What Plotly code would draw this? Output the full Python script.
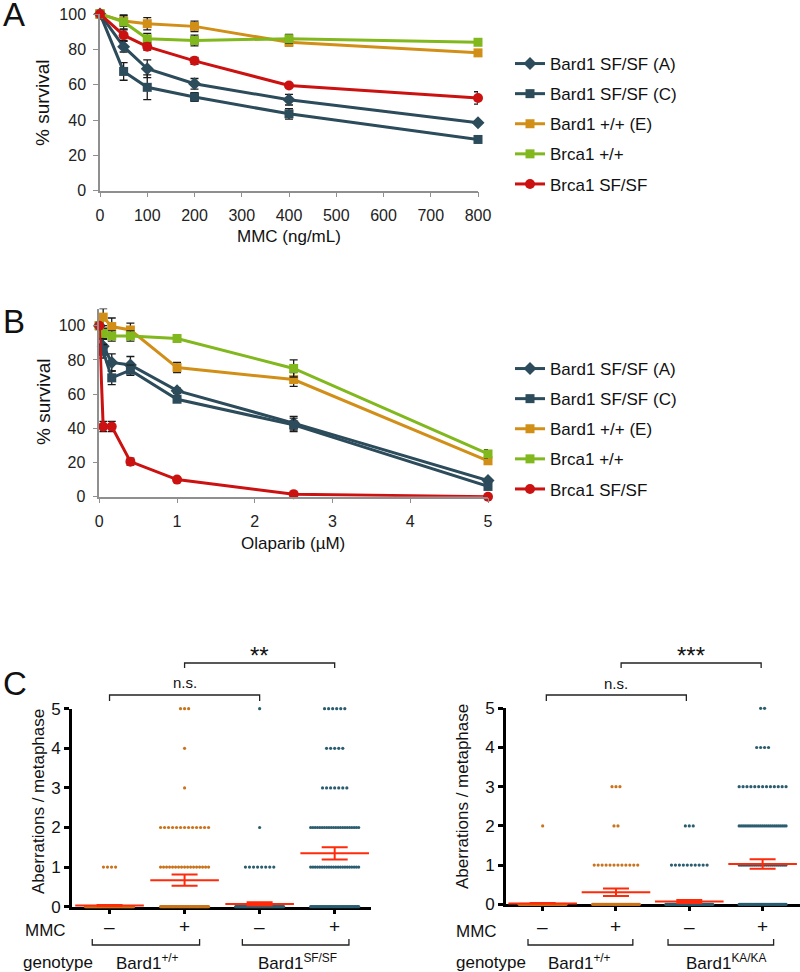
import plotly.graph_objects as go

FONT = "Arial, Liberation Sans, sans-serif"
W, H = 800, 972

# ---------------- Panel A data (MMC) ----------------
mmc_dose = [0, 50, 100, 200, 400, 800]
a_bard1_sfA = [100, 81.5, 69, 60.5, 51.5, 38.5]
a_bard1_sfA_err = [0, 3, 5, 3, 3, 1]
a_bard1_sfC = [100, 67.5, 58.5, 53, 43.5, 29]
a_bard1_sfC_err = [0, 5, 7, 2.5, 3, 1]
a_bard1_wtE = [100, 96, 94.5, 93, 84, 78]
a_bard1_wtE_err = [0, 3, 3.5, 3, 2, 1]
a_brca1_wt = [100, 95.5, 86, 85, 86, 84]
a_brca1_wt_err = [0, 4, 3, 3, 2.5, 1]
a_brca1_sf = [100, 88, 81.5, 73.5, 59.5, 52.5]
a_brca1_sf_err = [0, 3, 2, 2, 1, 3.5]

# ---------------- Panel B data (Olaparib) ----------------
ola_dose = [0, 0.05, 0.16, 0.4, 1, 2.5, 5]
b_bard1_sfA = [100, 88, 78.5, 77, 62, 43, 9.5]
b_bard1_sfA_err = [0, 4, 5, 5, 1.5, 4, 1]
b_bard1_sfC = [100, 85, 69.5, 74, 57, 42, 6]
b_bard1_sfC_err = [0, 4, 4, 3, 1.5, 4, 1]
b_bard1_wtE = [100, 105, 99.5, 97.5, 75.5, 68.5, 21]
b_bard1_wtE_err = [0, 5, 5, 4, 3, 4, 2]
b_brca1_wt = [100, 95.5, 94, 94, 92.5, 75, 25]
b_brca1_wt_err = [0, 3, 3, 3, 1.5, 5, 2.5]
b_brca1_sf = [100, 41, 41, 20.5, 10, 1.5, 0]
b_brca1_sf_err = [0, 3, 3, 2, 1, 0.5, 0]

series_names = ["Bard1 SF/SF (A)", "Bard1 SF/SF (C)", "Bard1 +/+ (E)", "Brca1 +/+", "Brca1 SF/SF"]
series_colors = ["#2c4b5b", "#2c4b5b", "#d28f17", "#80b81d", "#cc1111"]
series_symbols = ["diamond", "square", "square", "square", "circle"]
series_sizes = [10, 9, 9, 9, 10]

# ---------------- Panel C data (aberrations / metaphase) ----------------
aberr_values = [0, 1, 2, 3, 4, 5]
mmc_labels = ["–", "+", "–", "+"]
# counts of metaphases at each aberration value, per group
c_left_wt_minus = [60, 4, 0, 0, 0, 0]
c_left_wt_plus = [55, 17, 13, 1, 1, 3]
c_left_sf_minus = [60, 8, 1, 0, 0, 1]
c_left_sf_plus = [45, 22, 22, 7, 5, 6]
c_left_mean = [0.03, 0.67, 0.07, 1.35]
c_left_sem_lo = [0.015, 0.53, 0.03, 1.19]
c_left_sem_hi = [0.045, 0.81, 0.11, 1.50]

c_right_wt_minus = [60, 0, 1, 0, 0, 0]
c_right_wt_plus = [55, 12, 2, 3, 0, 0]
c_right_ka_minus = [60, 10, 3, 0, 0, 0]
c_right_ka_plus = [45, 25, 25, 13, 4, 2]
c_right_mean = [0.02, 0.31, 0.07, 1.03]
c_right_sem_lo = [0.01, 0.21, 0.03, 0.91]
c_right_sem_hi = [0.03, 0.40, 0.11, 1.15]

ORANGE = "#c9741c"
TEAL = "#2b5d70"
RED = "#ff2a0a"

fig = go.Figure()

def px_x(p):
    return p / W

def px_y(p):
    return 1 - p / H

# ---- Panels A and B line traces ----
a_data = [(a_bard1_sfA, a_bard1_sfA_err), (a_bard1_sfC, a_bard1_sfC_err), (a_bard1_wtE, a_bard1_wtE_err),
          (a_brca1_wt, a_brca1_wt_err), (a_brca1_sf, a_brca1_sf_err)]
b_data = [(b_bard1_sfA, b_bard1_sfA_err), (b_bard1_sfC, b_bard1_sfC_err), (b_bard1_wtE, b_bard1_wtE_err),
          (b_brca1_wt, b_brca1_wt_err), (b_brca1_sf, b_brca1_sf_err)]

for i, (ys, es) in enumerate(a_data):
    fig.add_trace(go.Scatter(
        x=mmc_dose, y=ys, mode="lines+markers", name=series_names[i],
        line=dict(color=series_colors[i], width=3),
        marker=dict(symbol=series_symbols[i], size=series_sizes[i], color=series_colors[i]),
        error_y=dict(type="data", array=es, color="#1a1a1a", thickness=1.3, width=4),
        xaxis="x", yaxis="y", legend="legend", legendgroup="a%d" % i, cliponaxis=False))

for i, (ys, es) in enumerate(b_data):
    fig.add_trace(go.Scatter(
        x=ola_dose, y=ys, mode="lines+markers", name=series_names[i],
        line=dict(color=series_colors[i], width=3),
        marker=dict(symbol=series_symbols[i], size=series_sizes[i], color=series_colors[i]),
        error_y=dict(type="data", array=es, color="#1a1a1a", thickness=1.3, width=4),
        xaxis="x2", yaxis="y2", legend="legend2", legendgroup="b%d" % i, cliponaxis=False))

# ---- Panel C scatter dots ----
def row_offsets(n, step=0.054, maxw=0.64):
    if n <= 1:
        return [0.0] * n
    s = min(step, maxw / (n - 1))
    return [(k - (n - 1) / 2) * s for k in range(n)]

def add_dots(groups, xa, ya):
    for cat, (counts, color) in enumerate(groups):
        xs, ys = [], []
        for val, n in zip(aberr_values, counts):
            for off in row_offsets(n):
                xs.append(cat + off)
                ys.append(val)
        fig.add_trace(go.Scatter(x=xs, y=ys, mode="markers",
                                 marker=dict(size=3.2, color=color),
                                 xaxis=xa, yaxis=ya, showlegend=False, cliponaxis=False))

def add_means(means, lo, hi, xa, ya):
    cats = list(range(len(means)))
    fig.add_trace(go.Scatter(
        x=cats, y=means, mode="markers",
        marker=dict(symbol="line-ew", size=49, color=RED, line=dict(width=2, color=RED)),
        error_y=dict(type="data", symmetric=False,
                     array=[h - m for h, m in zip(hi, means)],
                     arrayminus=[m - l for m, l in zip(means, lo)],
                     width=13, thickness=2, color=RED),
        xaxis=xa, yaxis=ya, showlegend=False, cliponaxis=False))

add_dots([(c_left_wt_minus, ORANGE), (c_left_wt_plus, ORANGE),
          (c_left_sf_minus, TEAL), (c_left_sf_plus, TEAL)], "x3", "y3")
add_means(c_left_mean, c_left_sem_lo, c_left_sem_hi, "x3", "y3")
add_dots([(c_right_wt_minus, ORANGE), (c_right_wt_plus, ORANGE),
          (c_right_ka_minus, TEAL), (c_right_ka_plus, TEAL)], "x4", "y4")
add_means(c_right_mean, c_right_sem_lo, c_right_sem_hi, "x4", "y4")

# ---- axes ----
gray_axis = dict(showline=True, linecolor="#8f8f8f", linewidth=1.5, ticks="outside",
                 tickcolor="#8f8f8f", ticklen=5, tickwidth=1.2, showgrid=False, zeroline=False,
                 automargin=False, tickfont=dict(family=FONT, size=16, color="#222"))
black_axis = dict(showline=True, linecolor="black", linewidth=3, ticks="outside",
                  tickcolor="black", tickwidth=3, showgrid=False, zeroline=False, automargin=False,
                  tickfont=dict(family=FONT, size=17, color="#111"), layer="below traces")

fig.update_layout(
    xaxis=dict(domain=[px_x(100), px_x(478)], range=[0, 800], tickvals=list(range(0, 801, 100)),
               anchor="y", ticklabelstandoff=4, **gray_axis),
    yaxis=dict(domain=[px_y(190.7), px_y(14)], range=[0, 100], tickvals=list(range(0, 101, 20)),
               anchor="x", ticklabelstandoff=4, **gray_axis),
    xaxis2=dict(domain=[px_x(99.3), px_x(488)], range=[0, 5], tickvals=[0, 1, 2, 3, 4, 5],
                anchor="y2", ticklabelstandoff=4, **gray_axis),
    yaxis2=dict(domain=[px_y(496.7), px_y(308.6)], range=[0, 110], tickvals=list(range(0, 101, 20)),
                anchor="x2", ticklabelstandoff=4, **gray_axis),
    xaxis3=dict(domain=[px_x(72), px_x(370.7)], range=[-0.5, 3.48], tickvals=[0, 1, 2, 3],
                showticklabels=False, ticklen=4, anchor="y3", **black_axis),
    yaxis3=dict(domain=[px_y(906.7), px_y(708.7)], range=[0, 5], tickvals=[0, 1, 2, 3, 4, 5],
                ticklen=5, anchor="x3", ticklabelstandoff=0, **black_axis),
    xaxis4=dict(domain=[px_x(506), 1.0], range=[-0.5, 3.51], tickvals=[0, 1, 2, 3],
                showticklabels=False, ticklen=4, anchor="y4", **black_axis),
    yaxis4=dict(domain=[px_y(904.3), px_y(708.3)], range=[0, 5], tickvals=[0, 1, 2, 3, 4, 5],
                ticklen=5, anchor="x4", ticklabelstandoff=0, **black_axis),
    legend=dict(x=px_x(510), y=px_y(46), xanchor="left", yanchor="top",
                font=dict(family=FONT, size=17, color="#111"), tracegroupgap=5,
                itemwidth=30, bgcolor="rgba(0,0,0,0)"),
    legend2=dict(x=px_x(510), y=px_y(351), xanchor="left", yanchor="top",
                 font=dict(family=FONT, size=17, color="#111"), tracegroupgap=5,
                 itemwidth=30, bgcolor="rgba(0,0,0,0)"),
    width=W, height=H, margin=dict(l=0, r=0, t=0, b=0, autoexpand=False),
    paper_bgcolor="white", plot_bgcolor="white",
    font=dict(family=FONT, color="#111"),
)

annotations = []
shapes = []

def ann(text, x, y, size, xref="paper", angle=0, xanchor="center"):
    annotations.append(dict(text=text, x=(px_x(x) if xref == "paper" else x), y=px_y(y),
                            xref=xref, yref="paper", showarrow=False, textangle=angle,
                            xanchor=xanchor, yanchor="middle",
                            font=dict(family=FONT, size=size, color="#111")))

# panel letters
ann("A", 1, 15, 33, xanchor="left")
ann("B", 1, 321, 33, xanchor="left")
ann("C", 1, 683, 33, xanchor="left")

# axis titles
ann("% survival", 43, 103, 19, angle=-90)
ann("MMC (ng/mL)", 289, 237, 17)
ann("% survival", 43, 402, 19, angle=-90)
ann("Olaparib (µM)", 293, 543, 17)
ann("Aberrations / metaphase", 38, 802, 17, angle=-90)
ann("Aberrations / metaphase", 462, 797, 17, angle=-90)

# MMC and genotype rows
ann("MMC", 45, 930, 17)
ann("MMC", 477, 931, 17)
ann("genotype", 58, 962, 17)
ann("genotype", 491, 962, 17)
for k, lab in enumerate(mmc_labels):
    ann(lab, k, 926, 19, xref="x3")
    ann(lab, k, 926, 19, xref="x4")
ann("Bard1<sup>+/+</sup>", 0.5, 962, 17, xref="x3")
ann("Bard1<sup>SF/SF</sup>", 2.5, 962, 17, xref="x3")
ann("Bard1<sup>+/+</sup>", 0.5, 962, 17, xref="x4")
ann("Bard1<sup>KA/KA</sup>", 2.5, 962, 17, xref="x4")

# significance brackets
def bracket(xref, x0, x1, ytop, ytick, label, size, ylabel):
    shapes.append(dict(type="path", xref=xref, yref="paper",
                       path=f"M {x0},{px_y(ytick)} L {x0},{px_y(ytop)} L {x1},{px_y(ytop)} L {x1},{px_y(ytick)}",
                       line=dict(color="#222", width=1.3)))
    if label:
        ann(label, (x0 + x1) / 2, ylabel, size, xref=xref)

bracket("x3", 0, 2, 695, 701, "n.s.", 15, 682)
bracket("x3", 1, 3, 663, 668, "**", 24, 655)
bracket("x4", 0.05, 1.96, 695, 701, "n.s.", 15, 683)
bracket("x4", 1.07, 2.98, 663, 668, "***", 24, 655)

# genotype brackets
bracket("x3", -0.23, 1.2, 945, 939, "", 0, 0)
bracket("x3", 1.77, 3.19, 945, 939, "", 0, 0)
bracket("x4", -0.2, 1.23, 945, 939, "", 0, 0)
bracket("x4", 1.71, 3.15, 945, 939, "", 0, 0)

fig.update_layout(annotations=annotations, shapes=shapes)

fig.write_html("out.html", config={"displayModeBar": False},
               post_script="document.body.style.margin='0';document.body.style.padding='0';")
